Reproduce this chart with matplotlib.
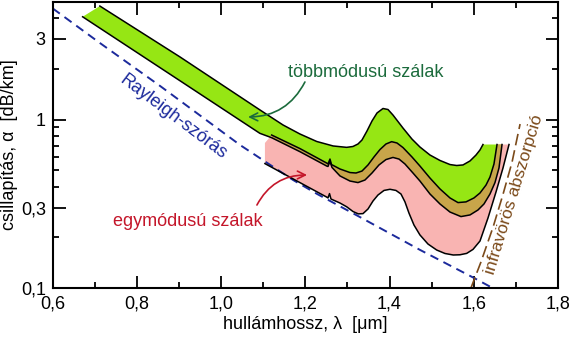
import numpy as np
import matplotlib
matplotlib.use("Agg")
import matplotlib.pyplot as plt
from matplotlib.ticker import FixedLocator, FixedFormatter, NullFormatter

plt.rcParams['font.family'] = ['Liberation Sans', 'DejaVu Sans']

## Data (wavelength in um, attenuation in dB/km)
# multimode band, upper edge
mm_top_lam = [0.712, 0.902, 1.092, 1.147, 1.187, 1.227, 1.266, 1.298, 1.313, 1.325,
              1.3345, 1.3464, 1.3583, 1.3702, 1.3844, 1.3963, 1.4081, 1.4319, 1.4532,
              1.4722, 1.4960, 1.5197, 1.5435, 1.5594, 1.5744, 1.5910, 1.6053, 1.6148,
              1.6219]
mm_top_att = [4.70, 2.35, 1.14, 0.928, 0.821, 0.741, 0.697, 0.684, 0.692, 0.716,
              0.756, 0.855, 0.980, 1.093, 1.162, 1.146, 1.063, 0.890, 0.766,
              0.687, 0.616, 0.572, 0.541, 0.534, 0.538, 0.568, 0.616, 0.660,
              0.711]

# multimode band, lower edge
mm_bot_lam = [0.671, 0.902, 1.092, 1.120, 1.187, 1.2507, 1.2538, 1.2585, 1.2633, 1.2823,
              1.3060, 1.3250, 1.3416, 1.3583, 1.3749, 1.3915, 1.4081, 1.4224, 1.4366,
              1.4556, 1.4722, 1.4960, 1.5197, 1.5435, 1.5696, 1.5910, 1.6100, 1.6243,
              1.6385, 1.6504, 1.6599, 1.6671]
mm_bot_att = [4.06, 1.698, 0.828, 0.780, 0.645, 0.530, 0.527, 0.564, 0.520, 0.463,
              0.432, 0.423, 0.438, 0.482, 0.538, 0.579, 0.596, 0.583, 0.545,
              0.482, 0.432, 0.362, 0.316, 0.283, 0.266, 0.272, 0.291, 0.316,
              0.362, 0.423, 0.516, 0.711]

# single-mode band, upper edge
sm_top_lam = [1.104, 1.120, 1.187, 1.2507, 1.2538, 1.2585, 1.2621, 1.2823, 1.3060, 1.3203,
              1.3345, 1.3488, 1.3630, 1.3773, 1.3915, 1.4050, 1.4176, 1.4319, 1.4532,
              1.4722, 1.4960, 1.5197, 1.5435, 1.5625, 1.5815, 1.6005, 1.6148, 1.6291,
              1.6385, 1.6480, 1.6552]
sm_top_att = [0.726, 0.809, 0.673, 0.552, 0.545, 0.583, 0.541, 0.509, 0.485, 0.482,
              0.495, 0.538, 0.600, 0.664, 0.716, 0.739, 0.726, 0.682, 0.600,
              0.530, 0.450, 0.388, 0.343, 0.322, 0.325, 0.343, 0.367, 0.409,
              0.456, 0.545, 0.711]

# single-mode band, lower edge
sm_bot_lam = [1.104, 1.187, 1.2507, 1.2538, 1.2574, 1.2609, 1.2823, 1.2982, 1.3132, 1.3257,
              1.3369, 1.3488, 1.3607, 1.3725, 1.3868, 1.4010, 1.4152, 1.4271, 1.4366,
              1.4461, 1.4580, 1.4722, 1.4912, 1.5119, 1.5316, 1.5513, 1.5672, 1.5832,
              1.5982, 1.6148, 1.6338, 1.6528, 1.6694, 1.6837]
sm_bot_att = [0.548, 0.423, 0.347, 0.343, 0.364, 0.338, 0.320, 0.304, 0.285, 0.276,
              0.277, 0.295, 0.329, 0.357, 0.380, 0.386, 0.380, 0.362, 0.325,
              0.279, 0.237, 0.207, 0.183, 0.1686, 0.1608, 0.1575, 0.158, 0.161,
              0.170, 0.1906, 0.261, 0.372, 0.516, 0.711]

# Rayleigh scattering limit
ray_lam = [0.600, 0.712, 0.855, 1.045, 1.171, 1.228, 1.330, 1.472, 1.601, 1.646]
ray_att = [4.55, 2.84, 1.58, 0.706, 0.438, 0.362, 0.264, 0.169, 0.115, 0.100]

# infrared absorption
ir_lam = [1.593, 1.617, 1.646, 1.669, 1.691, 1.710]
ir_att = [0.100, 0.143, 0.231, 0.357, 0.560, 0.940]

xticks = [0.6, 0.8, 1.0, 1.2, 1.4, 1.6, 1.8]
xtick_labels = ['0,6', '0,8', '1,0', '1,2', '1,4', '1,6', '1,8']
xminor = [0.7, 0.9, 1.1, 1.3, 1.5, 1.7]
yticks = [0.1, 0.3, 1, 3]
ytick_labels = ['0,1', '0,3', '1', '3']
yminor = [0.2, 0.4, 0.5, 0.6, 0.7, 0.8, 0.9, 2, 4]

GREEN = '#96e614'
PINK = '#f9b4b2'
TAN = '#c8a54a'

fig = plt.figure(figsize=(5.7, 3.37), dpi=100)
ax = fig.add_axes([0.0925, 0.1445, 0.8864, 0.851])
ax.set_yscale('log')

# fills
ax.fill(mm_top_lam + mm_bot_lam[::-1], mm_top_att + mm_bot_att[::-1],
        color=GREEN, lw=0, zorder=1)
ax.fill(sm_top_lam + sm_bot_lam[::-1], sm_top_att + sm_bot_att[::-1],
        color=PINK, lw=0, zorder=1)
lo = [(l, a) for l, a in zip(mm_bot_lam, mm_bot_att) if l >= sm_top_lam[1]]
tan_lam = sm_top_lam[1:] + [p[0] for p in lo][::-1]
tan_att = sm_top_att[1:] + [p[1] for p in lo][::-1]
ax.fill(tan_lam, tan_att, color=TAN, lw=0, zorder=1)

# band edges
for lam, att in [(mm_top_lam, mm_top_att), (mm_bot_lam, mm_bot_att),
                 (sm_top_lam[1:], sm_top_att[1:]), (sm_bot_lam, sm_bot_att)]:
    ax.plot(lam, att, color='black', lw=1.1, zorder=3, solid_joinstyle='round')

ax.plot(ray_lam, ray_att, color='#1c2a9c', lw=1.4, dashes=(4.5, 3), zorder=2)
ax.plot(ir_lam, ir_att, color='#7b4a1a', lw=1.2, dashes=(7, 3), zorder=2)

# labels
ax.text(0.886, 1.035, 'Rayleigh-szórás', color='#1c2a9c', fontsize=13,
        rotation=-37, ha='center', va='center', rotation_mode='anchor')
ax.text(1.343, 1.886, 'többmódusú szálak', color='#1b6b3c', fontsize=13,
        ha='center', va='center')
ax.text(0.922, 0.248, 'egymódusú szálak', color='#c4162a', fontsize=13,
        ha='center', va='center')
ax.text(1.6965, 0.362, 'infravörös abszorpció', color='#7b4a1a', fontsize=12.5,
        rotation=73, ha='center', va='center', rotation_mode='anchor')

ax.annotate('', xy=(1.064, 1.035), xytext=(1.199, 1.668),
            arrowprops=dict(arrowstyle='->', color='#1b6b3c', lw=1.2,
                            mutation_scale=14, shrinkA=0, shrinkB=0,
                            connectionstyle='arc3,rad=-0.3'))
ax.annotate('', xy=(1.204, 0.469), xytext=(1.085, 0.3115),
            arrowprops=dict(arrowstyle='->', color='#c4162a', lw=1.2,
                            mutation_scale=14, shrinkA=0, shrinkB=0,
                            connectionstyle='arc3,rad=-0.3'))

# axes
ax.set_xlim(0.6, 1.8)
ax.set_ylim(0.1, 5)
ax.xaxis.set_major_locator(FixedLocator(xticks))
ax.xaxis.set_major_formatter(FixedFormatter(xtick_labels))
ax.xaxis.set_minor_locator(FixedLocator(xminor))
ax.yaxis.set_major_locator(FixedLocator(yticks))
ax.yaxis.set_major_formatter(FixedFormatter(ytick_labels))
ax.yaxis.set_minor_locator(FixedLocator(yminor))
ax.yaxis.set_minor_formatter(NullFormatter())
ax.tick_params(which='both', direction='in', top=True, right=True,
               labelsize=13, width=1.3, pad=5)
ax.tick_params(which='major', length=9)
ax.tick_params(which='minor', length=4.5)
for s in ax.spines.values():
    s.set_linewidth(1.5)

ax.set_xlabel('hullámhossz, λ  [μm]', fontsize=13, labelpad=3)
ax.set_ylabel('csillapítás, α  [dB/km]', fontsize=13, labelpad=2)

fig.savefig('out.png', dpi=100)
